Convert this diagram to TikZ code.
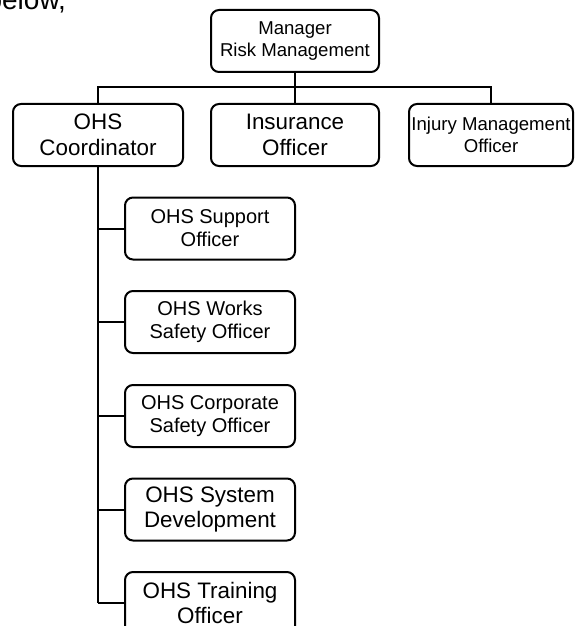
\documentclass[tikz,border=0pt]{standalone}
\usepackage{fontspec}
\setmainfont{Liberation Sans}
\begin{document}
\begin{tikzpicture}[x=0.5pt, y=-0.5pt, line width=1pt,
			every node/.style = {shape=rectangle, draw, rounded corners=4pt, line width=1pt, align=center, inner sep=1pt, minimum height=31pt, minimum width=85pt},
			small/.style={font=\fontsize{9.3}{10.7}\selectfont},
			mid/.style={font=\fontsize{10}{11.5}\selectfont},
			big/.style={font=\fontsize{11.2}{12.9}\selectfont}]
			
			\useasboundingbox (0,0) rectangle (574,626);
			
			\node[draw=none, inner sep=0pt, minimum height=0pt, minimum width=0pt, anchor=base east, font=\fontsize{14}{16}\selectfont] (below) at (67,10) {below,};
			
			\node[small, minimum width=84pt] (mgr) at (295,41) {Manager\\Risk Management};
			\node[big] (coord) at (98,135) {OHS\\Coordinator};
			\node[big, minimum width=84pt] (ins) at (295,135) {Insurance\\Officer};
			\node[small, minimum width=82pt] (inj) at (491,135) {Injury Management\\Officer};
			
			\node[mid] (sup) at (210,228.5) {OHS Support\\Officer};
			\node[mid] (works) at (210,322) {OHS Works\\Safety Officer};
			\node[mid] (corp) at (210,416) {OHS Corporate\\Safety Officer};
			\node[big] (sys) at (210,509.5) {OHS System\\Development};
			\node[big] (train) at (210,603) {OHS Training\\Officer};
			
			\draw (mgr) -- (ins);
			\draw (coord.north) -- ++(0,-16) -| (inj.north);
			\draw (coord.south) -- (coord.south |- train.west);
			\foreach \c in {sup,works,corp,sys,train}
				\draw (coord.south |- \c.west) -- (\c.west);
			\end{tikzpicture}
\end{document}
